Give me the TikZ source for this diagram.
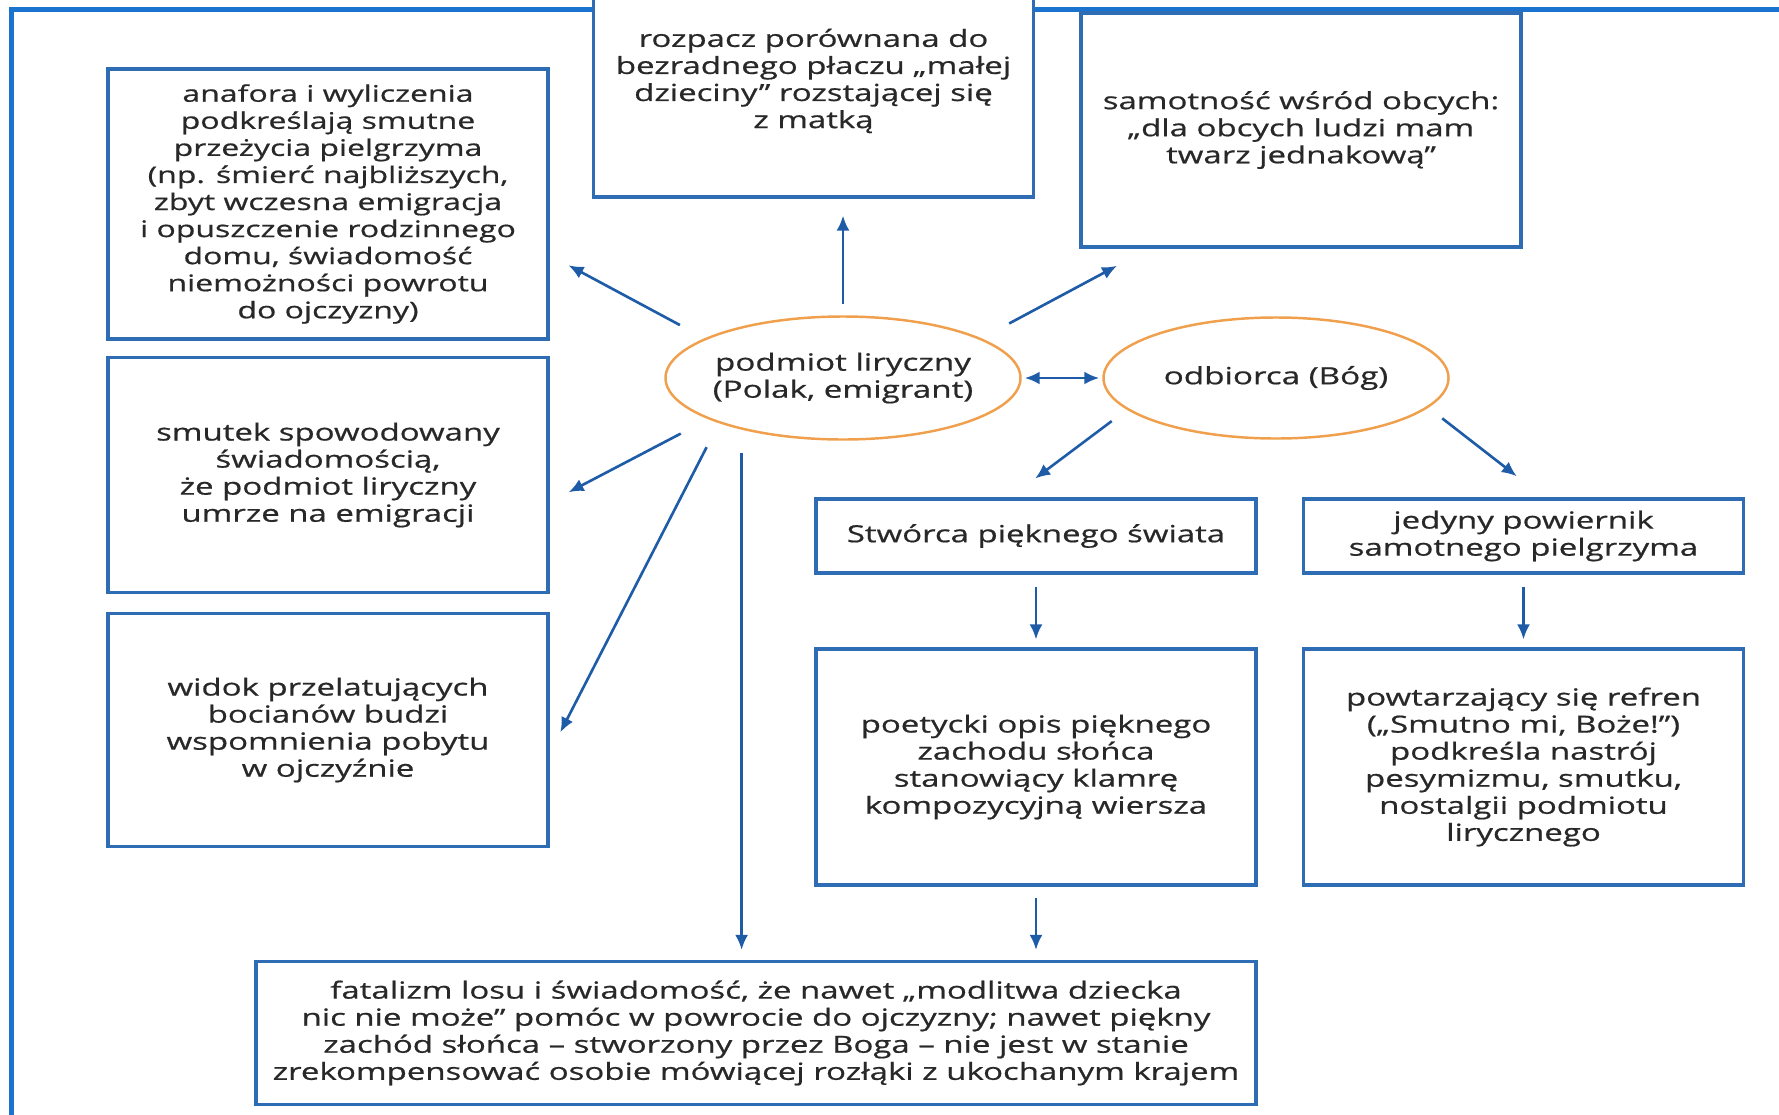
\documentclass[tikz,border=0pt]{standalone}
\usepackage{fontspec}
\setmainfont{Open Sans}[FakeStretch=1.4, FakeBold=0.7]
\usetikzlibrary{positioning,shapes.geometric,arrows.meta}
\definecolor{ramkaBlue}{RGB}{27,115,208}
\definecolor{boxBlue}{RGB}{46,108,180}
\definecolor{arrowBlue}{RGB}{30,92,168}
\definecolor{ellOrange}{RGB}{240,160,76}
\definecolor{textGray}{RGB}{40,40,40}
\tikzset{
    pole/.style={rectangle, draw=boxBlue, line width=1.8pt, fill=white, text=textGray, align=center, minimum width=88mm, inner sep=0pt, font=\fontsize{13.4}{15.4}\selectfont},
    osoba/.style={ellipse, draw=ellOrange, line width=1.4pt, fill=white, text=textGray, align=center, inner xsep=-2mm, inner ysep=0pt, font=\fontsize{13.5}{15.4}\selectfont},
    strzalka/.style={draw=arrowBlue, line width=1.5pt, >={Latex[length=3mm,width=2.6mm]}, ->}
}

\begin{document}
\begin{tikzpicture}[x=0.2mm, y=-0.2mm]
        % --- KADR ---
        \clip (0,0) rectangle (1779,1114);
        \draw[ramkaBlue, line width=1mm] (11,1120) -- (11,9.5) -- (1785,9.5);

        % --- OSOBY ---
        \node[osoba, minimum width=71mm, minimum height=24.6mm] (P) at (843,378) {podmiot liryczny\\(Polak, emigrant)};
        \node[osoba, minimum width=69mm, minimum height=24.2mm] (O) at (1276,378) {odbiorca (Bóg)};

        % --- LEWA KOLUMNA ---
        \node[pole, minimum height=54mm, font=\fontsize{13}{15.4}\selectfont] (A) at (328,204) {anafora i wyliczenia\\podkreślają smutne\\przeżycia pielgrzyma\\(np. śmierć najbliższych,\\zbyt wczesna emigracja\\i opuszczenie rodzinnego\\domu, świadomość\\niemożności powrotu\\do ojczyzny)};
        \node[pole, minimum height=47mm] (B) at (328,475) {smutek spowodowany\\świadomością,\\że podmiot liryczny\\umrze na emigracji};
        \node[pole, minimum height=46.6mm] (C) at (328,730) {widok przelatujących\\bocianów budzi\\wspomnienia pobytu\\w ojczyźnie};

        % --- GÓRA ---
        \node[pole, minimum height=46.4mm] (D) at (813.5,81) {rozpacz porównana do\\bezradnego płaczu „małej\\dzieciny” rozstającej się\\z matką};
        \node[pole, minimum height=46.8mm] (E) at (1301,130) {samotność wśród obcych:\\„dla obcych ludzi mam\\twarz jednakową”};

        % --- PRAWA STRONA ---
        \node[pole, minimum height=14.8mm] (F) at (1036,536) {Stwórca pięknego świata};
        \node[pole, minimum height=14.8mm] (G) at (1523.5,536) {jedyny powiernik\\samotnego pielgrzyma};
        \node[pole, minimum height=47.2mm] (H) at (1036,767) {poetycki opis pięknego\\zachodu słońca\\stanowiący klamrę\\kompozycyjną wiersza};
        \node[pole, minimum height=47.2mm] (I) at (1523.5,767) {powtarzający się refren\\(„Smutno mi, Boże!”)\\podkreśla nastrój\\pesymizmu, smutku,\\nostalgii podmiotu\\lirycznego};

        % --- DÓŁ ---
        \node[pole, minimum width=200mm, minimum height=28.6mm] (J) at (756,1033) {fatalizm losu i świadomość, że nawet „modlitwa dziecka\\nic nie może” pomóc w powrocie do ojczyzny; nawet piękny\\zachód słońca – stworzony przez Boga – nie jest w stanie\\zrekompensować osobie mówiącej rozłąki z ukochanym krajem};

        % --- STRZAŁKI ---
        \draw[strzalka, shorten <=5.6mm, shorten >=4.3mm] (P.164) -- (A.-13);
        \draw[strzalka, shorten <=2.2mm, shorten >=3.4mm] (P.north) -- (P.north |- D.south);
        \draw[strzalka, shorten <=6.3mm, shorten >=7.3mm] (P.16) -- (E.218);
        \draw[strzalka, <->, shorten <=0.6mm, shorten >=0.6mm] (P.east) -- (O.west);
        \draw[strzalka, shorten <=6.2mm, shorten >=4.3mm] (P.197) -- (B.-7);
        \draw[strzalka, shorten <=5.4mm, shorten >=4.7mm] (P.200) -- (C.-6);
        \draw[strzalka, shorten <=4.7mm, shorten >=2mm] (P.207) -- (P.207 |- J.north);
        \draw[strzalka, shorten <=3.8mm, shorten >=6.3mm] (O.192) -- (F.124);
        \draw[strzalka, shorten <=3.5mm, shorten >=6.9mm] (O.-11) -- (G.62);
        \draw[strzalka, shorten <=2.4mm, shorten >=1.6mm] (F) -- (H);
        \draw[strzalka, shorten <=2.4mm, shorten >=1.6mm] (G) -- (I);
        \draw[strzalka, shorten <=2.2mm, shorten >=2mm] (H.south) -- (H.south |- J.north);
\end{tikzpicture}
\end{document}
